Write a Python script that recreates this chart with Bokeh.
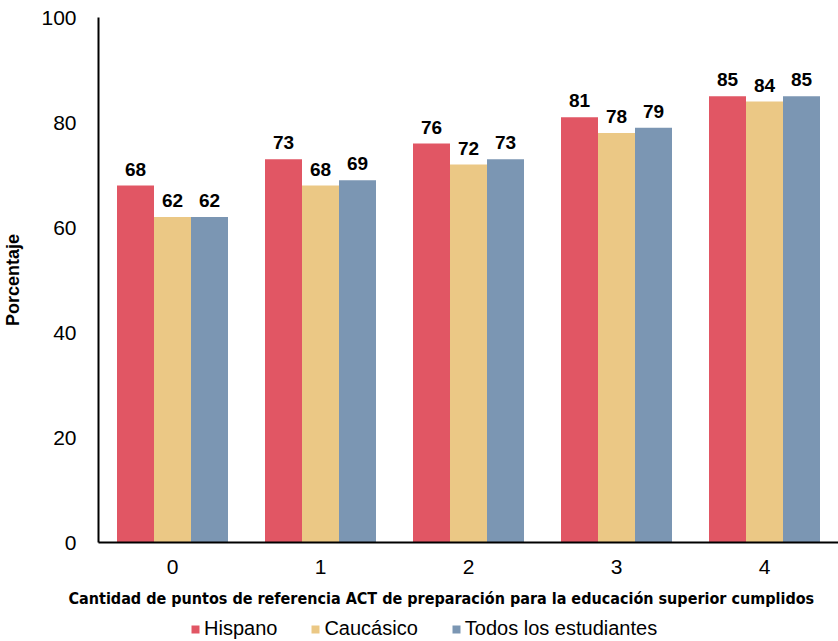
from bokeh.plotting import figure
from bokeh.models import ColumnDataSource, FactorRange, Range1d, Legend, LegendItem, Title, FixedTicker
from bokeh.layouts import column
from bokeh.transform import dodge
from bokeh.core.properties import value
from bokeh.embed import file_html
from bokeh.resources import INLINE

categories = ["0", "1", "2", "3", "4"]
hispano = [68, 73, 76, 81, 85]
caucasico = [62, 68, 72, 78, 84]
todos = [62, 69, 73, 79, 85]
series_names = ["Hispano", "Caucásico", "Todos los estudiantes"]
colors = ["#E15664", "#EBC885", "#7B96B3"]
y_ticks = [0, 20, 40, 60, 80, 100]

src = ColumnDataSource(dict(
    cat=categories,
    h=hispano, c=caucasico, t=todos,
    h_lbl=[str(v) for v in hispano],
    c_lbl=[str(v) for v in caucasico],
    t_lbl=[str(v) for v in todos],
))

fields = ["h", "c", "t"]
offsets = [-0.25, 0.0, 0.25]

p = figure(x_range=FactorRange(*categories, range_padding=0), y_range=Range1d(0, 100),
           width=838, height=617, output_backend="svg", toolbar_location=None,
           min_border_left=98, min_border_right=0, min_border_top=17, min_border_bottom=74)
p.outline_line_color = None
p.grid.grid_line_color = None

for f, off, col in zip(fields, offsets, colors):
    p.vbar(x=dodge("cat", off, range=p.x_range), top=f, width=0.25, source=src,
           fill_color=col, line_color=None)
    p.text(x=dodge("cat", off, range=p.x_range), y=f, text=f + "_lbl", source=src,
           text_align="center", text_baseline="bottom", y_offset=-10,
           text_font=value("Liberation Sans"), text_font_style="bold",
           text_font_size="19px", text_color="black")

for ax in (p.xaxis[0], p.yaxis[0]):
    ax.axis_line_color = "black"
    ax.axis_line_width = 2
    ax.major_tick_line_color = None
    ax.minor_tick_line_color = None
    ax.major_label_text_font = "Liberation Sans"
    ax.major_label_text_font_size = "21px"
    ax.major_label_text_color = "black"

p.yaxis.ticker = FixedTicker(ticks=y_ticks)
p.yaxis.major_label_standoff = 16
p.xaxis.major_label_standoff = 11
p.yaxis.axis_label = "Porcentaje"
p.yaxis.axis_label_text_font = "Liberation Sans"
p.yaxis.axis_label_text_font_style = "bold"
p.yaxis.axis_label_text_font_size = "18px"
p.yaxis.axis_label_text_color = "black"
p.yaxis.axis_label_standoff = 15

title = Title(text="Cantidad de puntos de referencia ACT de preparación para la educación superior cumplidos",
              align="left", offset=-30, standoff=20,
              text_font="DejaVu Sans Condensed", text_font_style="bold", text_font_size="16px",
              text_color="black")
p.add_layout(title, "below")

# legend strip under the chart; its proxy bars have zero width and lie outside its visible y-range
lf = figure(x_range=p.x_range, y_range=Range1d(1000, 1001),
            width=838, height=24, output_backend="svg", toolbar_location=None,
            x_axis_type=None, y_axis_type=None, min_border=0)
lf.outline_line_color = None
lf.grid.grid_line_color = None
leg_renderers = []
for f, off, col in zip(fields, offsets, colors):
    r = lf.vbar(x=dodge("cat", off, range=lf.x_range), top=f, width=0, source=src,
                fill_color=col, line_color=None)
    leg_renderers.append(r)

legend = Legend(items=[LegendItem(label=n, renderers=[r]) for n, r in zip(series_names, leg_renderers)],
                orientation="horizontal", location=(92, 1),
                padding=0, margin=0, spacing=33, label_standoff=4,
                glyph_width=10, glyph_height=10, label_height=20,
                label_text_font="Liberation Sans", label_text_font_size="20px",
                label_text_color="black",
                border_line_color=None, background_fill_alpha=0)
lf.add_layout(legend, "center")

layout = column(p, lf, spacing=0)
open("out.html", "w").write(file_html(layout, INLINE))
